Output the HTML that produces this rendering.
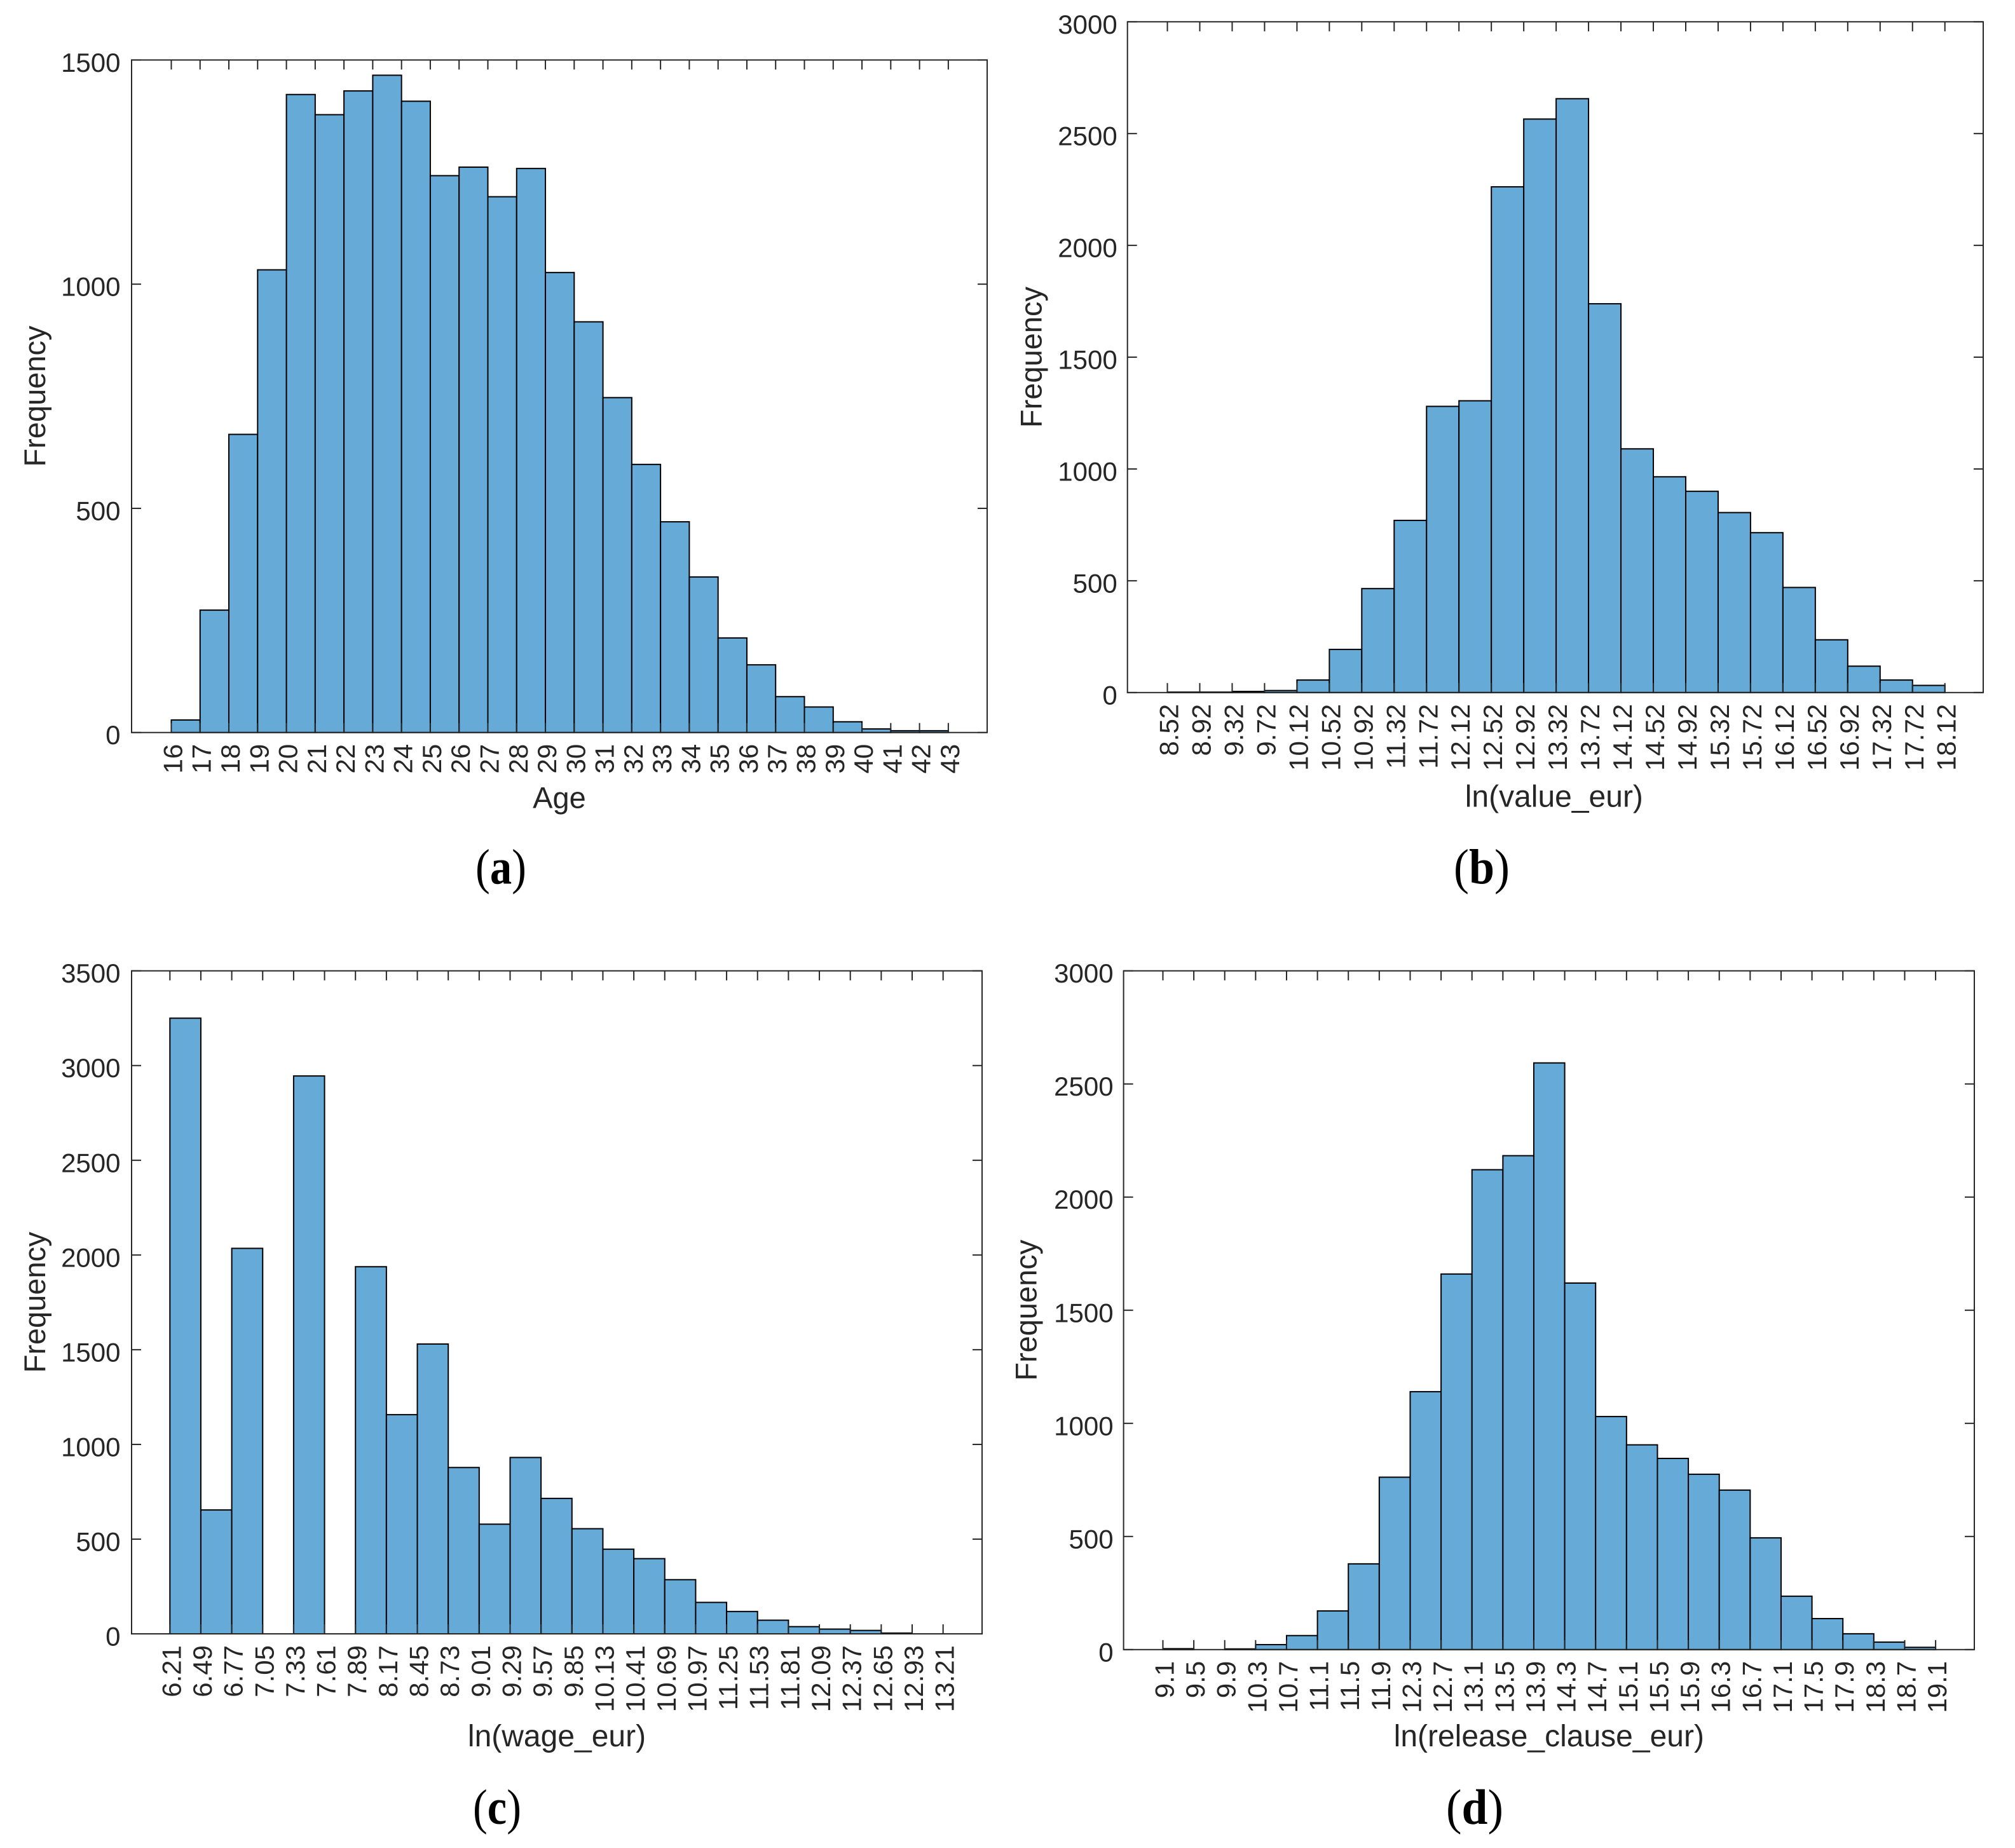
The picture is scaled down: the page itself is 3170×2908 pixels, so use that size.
<!DOCTYPE html>
<html lang="en">
<head>
<meta charset="utf-8">
<title>Histograms of Age, ln(value_eur), ln(wage_eur), ln(release_clause_eur)</title>
<style>
html,body{margin:0;padding:0;background:#fff;width:3170px;height:2908px;overflow:hidden}
svg{display:block}
text{font-family:"Liberation Sans",Arial,sans-serif;fill:#262626}
.caption{font-family:"Liberation Serif","Times New Roman",serif;fill:#000}
</style>
</head>
<body>
<svg id="figure" xmlns="http://www.w3.org/2000/svg" width="3170" height="2908" viewBox="0 0 3170 2908"></svg>
<script>
const ageBins = ["16","17","18","19","20","21","22","23","24","25","26","27","28","29","30","31","32","33","34","35","36","37","38","39","40","41","42","43"];
const ageCounts = [28,273,665,1032,1423,1378,1431,1466,1408,1242,1261,1195,1258,1026,916,747,598,470,347,211,151,80,57,24,8,4,4];
const ageYTicks = [0,500,1000,1500];

const valueBins = ["8.52","8.92","9.32","9.72","10.12","10.52","10.92","11.32","11.72","12.12","12.52","12.92","13.32","13.72","14.12","14.52","14.92","15.32","15.72","16.12","16.52","16.92","17.32","17.72","18.12"];
const valueCounts = [2,2,5,9,56,193,465,770,1280,1305,2262,2565,2656,1739,1090,965,900,805,715,470,236,118,56,32];
const valueYTicks = [0,500,1000,1500,2000,2500,3000];

const wageBins = ["6.21","6.49","6.77","7.05","7.33","7.61","7.89","8.17","8.45","8.73","9.01","9.29","9.57","9.85","10.13","10.41","10.69","10.97","11.25","11.53","11.81","12.09","12.37","12.65","12.93","13.21"];
const wageCounts = [3250,654,2035,0,2945,0,1938,1157,1530,878,579,931,715,555,447,397,286,166,118,72,38,25,18,4,0];
const wageYTicks = [0,500,1000,1500,2000,2500,3000,3500];

const clauseBins = ["9.1","9.5","9.9","10.3","10.7","11.1","11.5","11.9","12.3","12.7","13.1","13.5","13.9","14.3","14.7","15.1","15.5","15.9","16.3","16.7","17.1","17.5","17.9","18.3","18.7","19.1"];
const clauseCounts = [4,0,3,22,62,171,379,762,1140,1660,2121,2183,2593,1620,1030,905,845,775,705,494,236,137,70,33,10];
const clauseYTicks = [0,500,1000,1500,2000,2500,3000];

const panels = [
  {id:"age", bins:ageBins, counts:ageCounts, yTicks:ageYTicks, xLabel:"Age", caption:"a",
   xMin:14.62, xMax:44.35, yMax:1500,
   box:{l:207,r:1553,t:94.4,b:1152.7}, yGap:17.5, yLabelX:71, xLabelY:1271.5, xLabelSize:47, xLabelDx:0, capX:788, capY:1390.5, capW:80},
  {id:"value", bins:valueBins, counts:valueCounts, yTicks:valueYTicks, xLabel:"ln(value_eur)", caption:"b",
   xMin:8.027, xMax:18.593, yMax:3000,
   box:{l:1773.7,r:3120,t:34.3,b:1089.8}, yGap:16, yLabelX:1638.4, xLabelY:1269.5, xLabelSize:48, xLabelDx:-2, capX:2331, capY:1390.5, capW:88},
  {id:"wage", bins:wageBins, counts:wageCounts, yTicks:wageYTicks, xLabel:"ln(wage_eur)", caption:"c",
   xMin:5.863, xMax:13.563, yMax:3500,
   box:{l:207,r:1545,t:1527.7,b:2571}, yGap:17.5, yLabelX:71, xLabelY:2748, xLabelSize:48, xLabelDx:0, capX:782, capY:2870, capW:76},
  {id:"clause", bins:clauseBins, counts:clauseCounts, yTicks:clauseYTicks, xLabel:"ln(release_clause_eur)", caption:"d",
   xMin:8.591, xMax:19.601, yMax:3000,
   box:{l:1767.6,r:3106,t:1527.7,b:2595.8}, yGap:16, yLabelX:1630.3, xLabelY:2748, xLabelSize:48, xLabelDx:0, capX:2320, capY:2870, capW:90}
];

const SVG_NS = "http://www.w3.org/2000/svg";
const figure = document.getElementById("figure");
const INK = "#262626";
const BAR_FILL = "#66aad7";
const TICK_LEN = 15;

function make(tag, attrs, parent, content) {
  const node = document.createElementNS(SVG_NS, tag);
  for (const key in attrs) node.setAttribute(key, attrs[key]);
  if (content !== undefined) node.textContent = content;
  parent.appendChild(node);
  return node;
}

function drawPanel(p) {
  const box = p.box;
  const xScale = v => box.l + (v - p.xMin) / (p.xMax - p.xMin) * (box.r - box.l);
  const yScale = v => box.b - v / p.yMax * (box.b - box.t);

  const group = make("g", {}, figure);
  
  

  p.counts.forEach((count, i) => {
    const x0 = xScale(parseFloat(p.bins[i]));
    const x1 = xScale(parseFloat(p.bins[i + 1]));
    const yTop = yScale(count);
    const bar = make("rect", {x:x0, y:yTop, width:x1 - x0, height:box.b - yTop, fill:BAR_FILL, stroke:"#000", "stroke-width":2}, group);
    
    
  });

  const frame = make("rect", {x:box.l, y:box.t, width:box.r - box.l, height:box.b - box.t, fill:"none", stroke:INK, "stroke-width":2}, group);
  
  

  p.yTicks.forEach(v => {
    const y = yScale(v);
    const tickLeft = make("line", {x1:box.l, x2:box.l + TICK_LEN, y1:y, y2:y, stroke:INK, "stroke-width":2}, group);
    
    
    const tickRight = make("line", {x1:box.r, x2:box.r - TICK_LEN, y1:y, y2:y, stroke:INK, "stroke-width":2}, group);
    
    
    const label = make("text", {x:box.l - p.yGap, y:y + 18.5, "text-anchor":"end", "font-size":42}, group, String(v));
    
    
  });

  p.bins.forEach(name => {
    const x = xScale(parseFloat(name));
    const tickBottom = make("line", {x1:x, x2:x, y1:box.b, y2:box.b - TICK_LEN, stroke:INK, "stroke-width":2}, group);
    
    
    const tickTop = make("line", {x1:x, x2:x, y1:box.t, y2:box.t + TICK_LEN, stroke:INK, "stroke-width":2}, group);
    
    
    const lx = x + 17;
    const ly = box.b + 18;
    const label = make("text", {x:lx, y:ly, "text-anchor":"end", "font-size":42, transform:"rotate(-90 " + lx + " " + ly + ")"}, group, name);
    
    
  });

  const cy = (box.t + box.b) / 2;
  const yTitle = make("text", {x:p.yLabelX, y:cy, "text-anchor":"middle", "font-size":47, transform:"rotate(-90 " + p.yLabelX + " " + cy + ")"}, group, "Frequency");
  
  

  const xTitle = make("text", {x:(box.l + box.r) / 2 + p.xLabelDx, y:p.xLabelY, "text-anchor":"middle", "font-size":p.xLabelSize}, group, p.xLabel);
  
  

  const cap = make("text", {class:"caption", x:p.capX - p.capW / 2, y:p.capY, "font-size":78, textLength:p.capW, lengthAdjust:"spacingAndGlyphs"}, group);
  
  
  make("tspan", {}, cap, "(");
  make("tspan", {"font-weight":"bold"}, cap, p.caption);
  make("tspan", {}, cap, ")");
}

panels.forEach(drawPanel);
</script>
</body>
</html>
